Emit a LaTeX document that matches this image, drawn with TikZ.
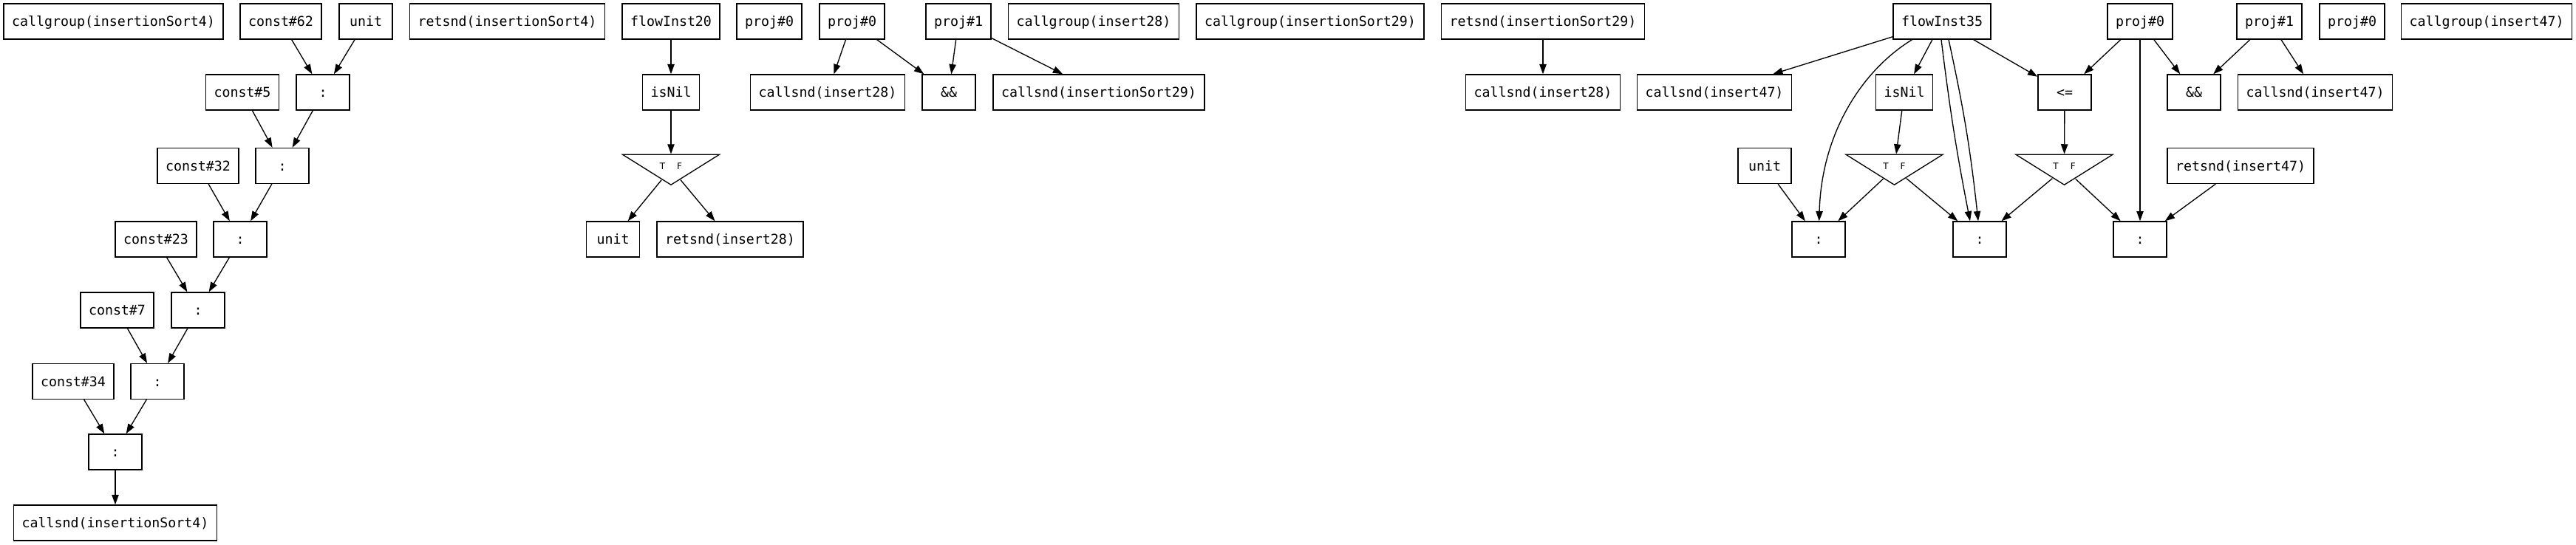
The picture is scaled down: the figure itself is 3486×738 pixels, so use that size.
\documentclass[tikz,border=0pt]{standalone}
\usepackage{fontspec}
\usetikzlibrary{arrows.meta,shapes.geometric,calc}
\newfontfamily\gvmono{DejaVu Sans Mono}
\newfontfamily\gvsans{DejaVu Sans}
\begin{document}
\begin{tikzpicture}[x=0.75pt,y=-0.75pt,
  box/.style={draw,line width=1pt,font=\gvmono\fontsize{13.7pt}{16pt}\selectfont,
    minimum width=54pt,minimum height=36pt,inner xsep=8.25pt,inner ysep=0pt,
    text height=10pt,text depth=0pt},
  tri/.style={draw,line width=1pt,isosceles triangle,shape border rotate=270,
    isosceles triangle stretches,minimum width=98.25pt,minimum height=30.75pt,inner sep=0pt},
  tf/.style={font=\gvsans\fontsize{9pt}{10pt}\selectfont,inner sep=0pt},
  arr/.style={-{Triangle[length=10pt,width=7pt]},line width=1pt}]
\fill[white] (0,0) rectangle (3486,738);
\useasboundingbox (0,0) rectangle (3486,738);

% ---------- left cluster ----------
\node[box] (cg4) at (153.5,29) {callgroup(insertionSort4)};
\node[box] (c62) at (380,29) {const\#62};
\node[box] (unitA) at (495,29) {unit};
\node[box] (rs4) at (686.5,29) {retsnd(insertionSort4)};
\node[box] (c5) at (328,125) {const\#5};
\node[box] (k1) at (437,125) {:};
\node[box] (c32) at (268,224.5) {const\#32};
\node[box] (k2) at (382,224.5) {:};
\node[box] (c23) at (211,324) {const\#23};
\node[box] (k3) at (325,324) {:};
\node[box] (c7) at (158.5,420) {const\#7};
\node[box] (k4) at (268,420) {:};
\node[box] (c34) at (99,516.5) {const\#34};
\node[box] (k5) at (213,516.5) {:};
\node[box] (k6) at (156,612) {:};
\node[box] (cs4) at (156,708) {callsnd(insertionSort4)};

\draw[arr] (c62) -- (k1);
\draw[arr] (unitA) -- (k1);
\draw[arr] (c5) -- (k2);
\draw[arr] (k1) -- (k2);
\draw[arr] (c32) -- (k3);
\draw[arr] (k2) -- (k3);
\draw[arr] (c23) -- (k4);
\draw[arr] (k3) -- (k4);
\draw[arr] (c7) -- (k5);
\draw[arr] (k4) -- (k5);
\draw[arr] (c34) -- (k6);
\draw[arr] (k5) -- (k6);
\draw[arr] (k6) -- (cs4);

% ---------- middle cluster ----------
\node[box] (fi20) at (908,29) {flowInst20};
\node[box] (p0a) at (1041,29) {proj\#0};
\node[box] (p0b) at (1153,29) {proj\#0};
\node[box] (p1a) at (1297,29) {proj\#1};
\node[box] (cg28) at (1480,29) {callgroup(insert28)};
\node[box] (cg29) at (1773,29) {callgroup(insertionSort29)};
\node[box] (rs29) at (2088,29) {retsnd(insertionSort29)};
\node[box] (isnA) at (908,125) {isNil};
\node[box] (cs28a) at (1120,125) {callsnd(insert28)};
\node[box] (andA) at (1284,125) {\&\&};
\node[box] (cs29) at (1487,125) {callsnd(insertionSort29)};
\node[box] (cs28b) at (2088,125) {callsnd(insert28)};
\node[box] (cs47a) at (2320,125) {callsnd(insert47)};
\node[tri,anchor=apex] (triA) at (908,252) {};
\node[tf] (tfA) at (908,225) {T\hspace{12pt}F};
\node[box] (unitB) at (829.5,324) {unit};
\node[box] (rs28) at (988,324) {retsnd(insert28)};

\draw[arr] (fi20) -- (isnA);
\draw[arr] (isnA) -- (triA);
\draw[arr] (triA) -- (unitB);
\draw[arr] (triA) -- (rs28);
\draw[arr] (p0b) -- (cs28a);
\draw[arr] (p0b) -- (andA);
\draw[arr] (p1a) -- (andA);
\draw[arr] (p1a) -- (cs29);
\draw[arr] (rs29) -- (cs28b);

% ---------- right cluster ----------
\node[box] (fi35) at (2628,29) {flowInst35};
\node[box] (p0c) at (2896,29) {proj\#0};
\node[box] (p1b) at (3071,29) {proj\#1};
\node[box] (p0d) at (3183,29) {proj\#0};
\node[box] (cg47) at (3365,29) {callgroup(insert47)};
\node[box] (isnB) at (2577,125) {isNil};
\node[box] (le) at (2794,125) {<=};
\node[box] (andB) at (2969,125) {\&\&};
\node[box] (cs47b) at (3133,125) {callsnd(insert47)};
\node[box] (unitC) at (2388,224.5) {unit};
\node[tri,anchor=apex] (triB) at (2563.5,252) {};
\node[tf] (tfB) at (2563.5,225) {T\hspace{12pt}F};
\node[tri,anchor=apex] (triC) at (2793.5,252) {};
\node[tf] (tfC) at (2793.5,225) {T\hspace{12pt}F};
\node[box] (rs47) at (3032,224.5) {retsnd(insert47)};
\node[box] (kA) at (2461,324) {:};
\node[box] (kB) at (2679,324) {:};
\node[box] (kC) at (2896,324) {:};

\draw[arr] (fi35) -- (cs47a);
\draw[arr] (fi35) -- (isnB);
\draw[arr] (fi35) -- (le);
\draw[arr] (fi35) .. controls (2520,95) and (2465,180) .. (kA);
\draw[arr] ($(fi35.south)+(-1,0)$) to[bend right=2] ($(kB.north)+(-13,0)$);
\draw[arr] ($(fi35.south)+(9,0)$) to[bend left=3] ($(kB.north)+(-2,0)$);
\draw[arr] (isnB) -- (triB);
\draw[arr] (le) -- (triC);
\draw[arr] (unitC) -- (kA);
\draw[arr] (triB) -- (kA);
\draw[arr] (triB) -- (kB);
\draw[arr] (triC) -- (kB);
\draw[arr] (triC) -- (kC);
\draw[arr] (p0c) -- (le);
\draw[arr] (p0c) -- (kC);
\draw[arr] (p0c) -- (andB);
\draw[arr] (p1b) -- (andB);
\draw[arr] (p1b) -- (cs47b);
\draw[arr] (rs47) -- (kC);
\end{tikzpicture}
\end{document}
